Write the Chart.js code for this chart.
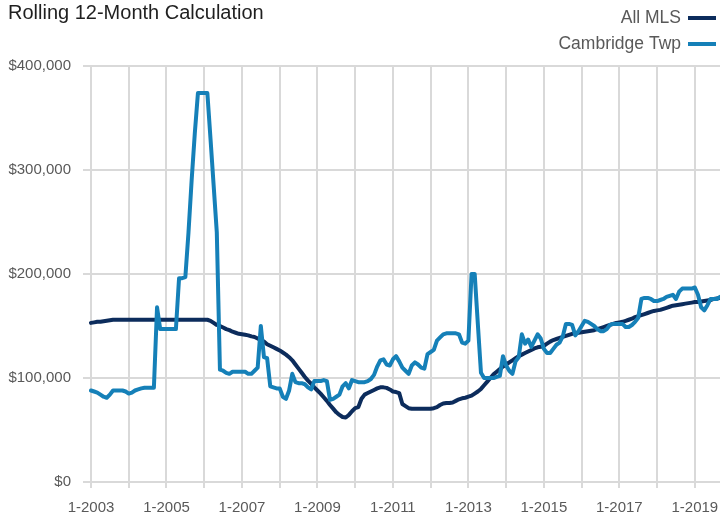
<!DOCTYPE html>
<html>
<head>
<meta charset="utf-8">
<script src="https://cdn.jsdelivr.net/npm/chart.js@4"></script>
<style>
  html, body { margin: 0; padding: 0; background: #fff; }
  #wrap { width: 720px; height: 515px; position: relative; }
</style>
</head>
<body>
<div id="wrap"><canvas id="rollingChart"></canvas></div>
<script>
const FONT = '"Liberation Sans", Arial, sans-serif';

// month labels 1-2003 .. 9-2019
const months = [];
for (let y = 2003; y <= 2019; y++) {
  for (let m = 1; m <= 12; m++) {
    if (y === 2019 && m > 9) break;
    months.push(m + '-' + y);
  }
}

// rolling 12-month price, $ thousands (one row per year)
const allMls = [
  153, 153.5, 154, 154, 154.5, 155, 155.5, 156, 156, 156, 156, 156,
  156, 156, 156, 156, 156, 156, 156, 156, 156, 156, 156, 156,
  156, 156, 156, 156, 156, 156, 156, 156, 156, 156, 156, 156,
  156, 156, 155, 153, 151, 150, 148.5, 147, 146, 144.5, 143.5, 142.5,
  142, 141.5, 141, 140, 139.5, 138, 137, 135, 132.5, 131, 129.5, 128,
  126.5, 124.5, 122.5, 120, 117, 113, 109, 105, 101, 97.5, 94.5, 91,
  88, 85, 81.5, 78, 74, 70.5, 67, 64.5, 62.5, 62, 64.5, 68,
  71, 72, 80, 84, 85.5, 87, 88.5, 90, 91, 91, 90.5, 89,
  87, 86.5, 85.5, 75, 73, 71, 70.5, 70.5, 70.5, 70.5, 70.5, 70.5,
  70.5, 71, 72, 74, 75.5, 76, 76, 76.5, 78, 79.5, 80.5, 81,
  82, 83, 85, 87, 89.5, 93, 96.5, 100, 103.5, 106, 108.5, 111,
  113, 115, 117, 119, 121, 122.5, 124, 125.5, 127, 128.5, 129.5, 130,
  131, 133, 135, 136.5, 137.5, 138.5, 139.5, 140.5, 141.5, 142.5, 143, 143.5,
  144, 144.5, 145, 145.5, 146, 147, 148, 149, 150, 151, 152, 153,
  153.5, 154, 155, 156, 157, 158.5, 159.5, 160.5, 161.5, 162.5, 163.5, 164.5,
  165, 165.5, 166.5, 167.5, 168.5, 169.5, 170, 170.5, 171, 171.5, 172, 172.5,
  173, 173, 173.5, 174, 174.5, 175, 176, 176.5, 177
];

const cambridgeTwp = [
  88, 87, 86, 84, 82, 81, 84, 88, 88, 88, 88, 87,
  85, 86, 88, 89, 90, 90.6, 90.6, 90.6, 90.6, 168, 147, 147,
  147, 147, 147, 147, 196, 196, 197, 240, 290, 335, 374, 374,
  374, 374, 330, 285, 240, 108, 107, 105, 104, 106, 106, 106,
  106, 106, 104, 104, 107, 110, 150, 120, 119, 92, 91, 90,
  90, 82, 80, 88, 104, 96, 95, 95, 94, 91, 89, 97,
  97, 97, 98, 97, 79, 80, 82, 84, 92, 95, 90, 98,
  97, 96, 96, 96, 97, 99, 103, 111, 117, 118, 113, 112,
  118, 121, 116, 110, 107, 104, 112, 115, 113, 110, 109, 123,
  125, 127, 136, 139, 142, 143, 143, 143, 143, 142, 134, 133,
  136, 200, 200, 152, 105, 100, 100, 100, 100, 101, 102, 121,
  112, 107, 104, 116, 120, 142, 133, 137, 130, 136, 142, 138,
  128, 124, 124, 128, 132, 134, 140, 152, 152, 151, 141, 145,
  150, 155, 154, 152, 150, 147, 145, 145, 147, 151, 152, 152,
  152, 152, 149, 149, 151, 154, 158, 176, 177, 177, 176, 174,
  174, 175, 176, 178, 179, 180, 176, 183, 186, 186, 186, 186,
  187, 180, 168, 165, 170, 176, 176, 176, 178
];

const navy = '#0c2c5c';
const blue = '#1580b8';
const gridColor = '#d9d9d9';

const legendItems = [
  { label: 'All MLS', color: navy },
  { label: 'Cambridge Twp', color: blue }
];

// title top-left, legend top-right with the line sample after the text
const headerPlugin = {
  id: 'header',
  afterDraw(chart) {
    const ctx = chart.ctx;
    ctx.save();
    ctx.textBaseline = 'middle';
    ctx.font = '20px ' + FONT;
    ctx.fillStyle = '#1f1f1f';
    ctx.textAlign = 'left';
    ctx.fillText('Rolling 12-Month Calculation', 8, 13);

    ctx.font = '17.5px ' + FONT;
    ctx.fillStyle = '#595959';
    ctx.textAlign = 'right';
    legendItems.forEach((item, k) => {
      const y = 18 + k * 26;
      ctx.fillText(item.label, 681, y);
      ctx.strokeStyle = item.color;
      ctx.lineWidth = 4;
      ctx.beginPath();
      ctx.moveTo(688, y);
      ctx.lineTo(716, y);
      ctx.stroke();
    });
    ctx.restore();
  }
};

const ctx = document.getElementById('rollingChart').getContext('2d');
new Chart(ctx, {
  type: 'line',
  data: {
    labels: months,
    datasets: [{
      label: 'All MLS',
      data: allMls,
      borderColor: navy,
      borderWidth: 4,
      pointRadius: 0,
      borderJoinStyle: 'round',
      borderCapStyle: 'round',
      order: 2
    }, {
      label: 'Cambridge Twp',
      data: cambridgeTwp,
      borderColor: blue,
      borderWidth: 4,
      pointRadius: 0,
      borderJoinStyle: 'round',
      borderCapStyle: 'round',
      order: 1
    }]
  },
  options: {
    responsive: true,
    maintainAspectRatio: false,
    animation: false,
    layout: { padding: { top: 66, right: 0, left: 0, bottom: 0 } },
    plugins: {
      legend: { display: false },
      tooltip: { enabled: false }
    },
    scales: {
      x: {
        offset: false,
        border: { display: false },
        grid: {
          color: c => (c.index % 12 === 0 ? gridColor : 'rgba(0,0,0,0)'),
          lineWidth: 2,
          tickLength: 6
        },
        ticks: {
          autoSkip: false,
          maxRotation: 0,
          minRotation: 0,
          padding: 11,
          color: '#595959',
          font: { family: FONT, size: 15 },
          callback: function (v, i) {
            return i % 24 === 0 ? this.getLabelForValue(v) : '';
          }
        },
        afterFit: s => {
          s.height = 33;
          s.paddingLeft = 0;
          s.paddingRight = 0;
        }
      },
      y: {
        min: 0,
        max: 400,
        border: { display: false },
        grid: { color: gridColor, lineWidth: 2, tickLength: 8 },
        ticks: {
          stepSize: 100,
          padding: 12,
          color: '#595959',
          font: { family: FONT, size: 15 },
          callback: v => '$' + (v * 1000).toLocaleString('en-US')
        },
        afterFit: s => { s.width = 91; }
      }
    }
  },
  plugins: [headerPlugin]
});
</script>
</body>
</html>
